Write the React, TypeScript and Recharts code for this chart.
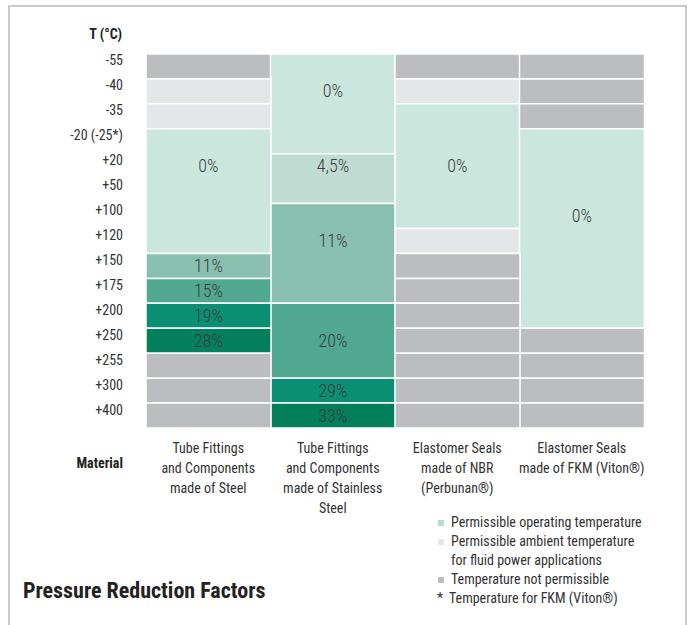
import React from 'react';
import { BarChart, Bar, XAxis, YAxis, Cell } from 'recharts';

const temperatures = ['-55', '-40', '-35', '-20 (-25*)', '+20', '+50', '+100', '+120', '+150', '+175', '+200', '+250', '+255', '+300', '+400'];

const materials = [
  ['Tube Fittings', 'and Components', 'made of Steel'],
  ['Tube Fittings', 'and Components', 'made of Stainless', 'Steel'],
  ['Elastomer Seals', 'made of NBR', '(Perbunan®)'],
  ['Elastomer Seals', 'made of FKM (Viton®)'],
];

// each column, top to bottom: how many temperature rows a block covers,
// what it is ('x' = not permissible, 'a' = ambient only, number = reduction factor in %)
// and on which row of the block the factor is written
const steelRows = [1, 1, 1, 5, 1, 1, 1, 1, 1, 1, 1];
const steelCells = ['x', 'a', 'a', 0, 11, 15, 19, 28, 'x', 'x', 'x'];
const steelLabelRow = [0, 0, 0, 1, 0, 0, 0, 0, 0, 0, 0];

const stainlessRows = [4, 2, 4, 3, 1, 1];
const stainlessCells = [0, 4.5, 11, 20, 29, 33];
const stainlessLabelRow = [1, 0, 1, 1, 0, 0];

const nbrRows = [1, 1, 5, 1, 1, 1, 1, 1, 1, 1, 1];
const nbrCells = ['x', 'a', 0, 'a', 'x', 'x', 'x', 'x', 'x', 'x', 'x'];
const nbrLabelRow = [0, 0, 2, 0, 0, 0, 0, 0, 0, 0, 0];

const fkmRows = [1, 1, 1, 8, 1, 1, 1, 1];
const fkmCells = ['x', 'x', 'x', 0, 'x', 'x', 'x', 'x'];
const fkmLabelRow = [0, 0, 0, 3, 0, 0, 0, 0];

const legendItems = [
  { kind: 'op', lines: ['Permissible operating temperature'] },
  { kind: 'a', lines: ['Permissible ambient temperature', 'for fluid power applications'] },
  { kind: 'x', lines: ['Temperature not permissible'] },
];

const FONT = '"Liberation Sans Narrow", "Roboto Condensed", "Arial Narrow", Roboto, sans-serif';

const colors: Record<string, string> = {
  x: '#bcbdc0',
  a: '#e5e6e8',
  op: '#b5dccf',
  '0': '#cae6dd',
  '4.5': '#bfdcd2',
  '11': '#88bfae',
  '15': '#50a890',
  '20': '#50a890',
  '19': '#0b8f73',
  '29': '#0b8f73',
  '28': '#037f5c',
  '33': '#037f5c',
};

const columns = [
  { rows: steelRows, cells: steelCells, labelRow: steelLabelRow },
  { rows: stainlessRows, cells: stainlessCells, labelRow: stainlessLabelRow },
  { rows: nbrRows, cells: nbrCells, labelRow: nbrLabelRow },
  { rows: fkmRows, cells: fkmCells, labelRow: fkmLabelRow },
];

const maxBlocks = Math.max(...columns.map((c) => c.rows.length));
const blockKeys = Array.from({ length: maxBlocks }, (_, i) => `b${i}`);

const data = columns.map((col, i) => {
  const row: Record<string, any> = { material: i };
  col.rows.forEach((r, k) => {
    row[`b${k}`] = r;
  });
  return row;
});

const rowTicks = temperatures.map((_, i) => i + 0.5);

const fmt = (v: number) => String(v).replace('.', ',') + '%';

const renderBlockLabel = (k: number) => (props: any) => {
  const { x, y, width, height, index } = props;
  const col = columns[index];
  if (!col || k >= col.rows.length) return null;
  const cell = col.cells[k];
  if (typeof cell !== 'number') return null;
  // axis is reversed, so the rect can come with a negative height
  const top = Math.min(y, y + height);
  const rowH = Math.abs(height) / col.rows[k];
  const cy = top + rowH * (col.labelRow[k] + 0.5);
  return (
    <text
      x={x + width / 2}
      y={cy + 6}
      textAnchor="middle"
      fill="#3c3c3c"
      fontSize={18}
      fontWeight={300}
      fontFamily={FONT}
    >
      {fmt(cell)}
    </text>
  );
};

const TempTick = (props: any) => {
  const { x, y, payload } = props;
  const label = temperatures[Math.floor(payload.value)];
  return (
    <text x={x} y={y - 1} textAnchor="end" fill="#333" fontSize={14} fontFamily={FONT}>
      {label}
    </text>
  );
};

const MaterialTick = (props: any) => {
  const { x, y, payload } = props;
  const lines = materials[payload.value] || [];
  return (
    <text x={x} y={y} textAnchor="middle" fill="#333" fontSize={14} fontFamily={FONT}>
      {lines.map((l, i) => (
        <tspan key={i} x={x} dy={i === 0 ? 11 : 20}>
          {l}
        </tspan>
      ))}
    </text>
  );
};

const App = () => {
  return (
    <div style={{ position: 'absolute', left: 0, top: 0, width: 691, height: 625, background: '#fff', overflow: 'hidden', fontFamily: FONT }}>
      <div
        style={{
          position: 'absolute',
          left: 8,
          top: 5,
          width: 679,
          height: 640,
          borderTop: '2px solid #c9c9c9',
          borderLeft: '2px solid #c9c9c9',
          borderRight: '2px solid #c9c9c9',
          boxSizing: 'border-box',
        }}
      />
      <BarChart
        width={691}
        height={625}
        data={data}
        barCategoryGap={0}
        margin={{ top: 54, right: 47, left: 16, bottom: 107 }}
        style={{ position: 'absolute', left: 0, top: 0 }}
      >
        <XAxis
          dataKey="material"
          type="category"
          height={90}
          axisLine={false}
          tickLine={false}
          tickSize={0}
          tickMargin={14}
          interval={0}
          tick={<MaterialTick />}
        />
        <YAxis
          type="number"
          domain={[0, temperatures.length]}
          reversed
          width={130}
          ticks={rowTicks}
          interval={0}
          axisLine={false}
          tickLine={false}
          tickSize={0}
          tickMargin={23}
          tick={<TempTick />}
        />
        {blockKeys.map((key, k) => (
          <Bar
            key={key}
            dataKey={key}
            stackId="t"
            stroke="#ffffff"
            strokeWidth={1.5}
            isAnimationActive={false}
            label={renderBlockLabel(k)}
          >
            {columns.map((col, i) => (
              <Cell key={i} fill={colors[String(col.cells[k])] || 'transparent'} />
            ))}
          </Bar>
        ))}
      </BarChart>
      <div style={{ position: 'absolute', right: 569, top: 26, fontSize: 14, fontWeight: 'bold', color: '#222' }}>
        T (°C)
      </div>
      <div style={{ position: 'absolute', right: 568, top: 455, fontSize: 14, fontWeight: 'bold', color: '#222' }}>
        Material
      </div>
      <div style={{ position: 'absolute', left: 23, top: 578, fontSize: 22, fontWeight: 'bold', color: '#222' }}>
        Pressure Reduction Factors
      </div>
      <div style={{ position: 'absolute', left: 435, top: 513, fontSize: 14, color: '#333', lineHeight: '19px' }}>
        {legendItems.map((item) =>
          item.lines.map((l, j) => (
            <div key={item.kind + j} style={{ display: 'flex', alignItems: 'center' }}>
              <span
                style={{
                  display: 'inline-block',
                  width: 6,
                  height: 6,
                  marginLeft: 3,
                  marginRight: 7,
                  background: j === 0 ? colors[item.kind] : 'transparent',
                }}
              />
              {l}
            </div>
          ))
        )}
        <div style={{ display: 'flex' }}>
          <span style={{ display: 'inline-block', width: 12, marginLeft: 2 }}>*</span>
          Temperature for FKM (Viton®)
        </div>
      </div>
    </div>
  );
};

export default App;
